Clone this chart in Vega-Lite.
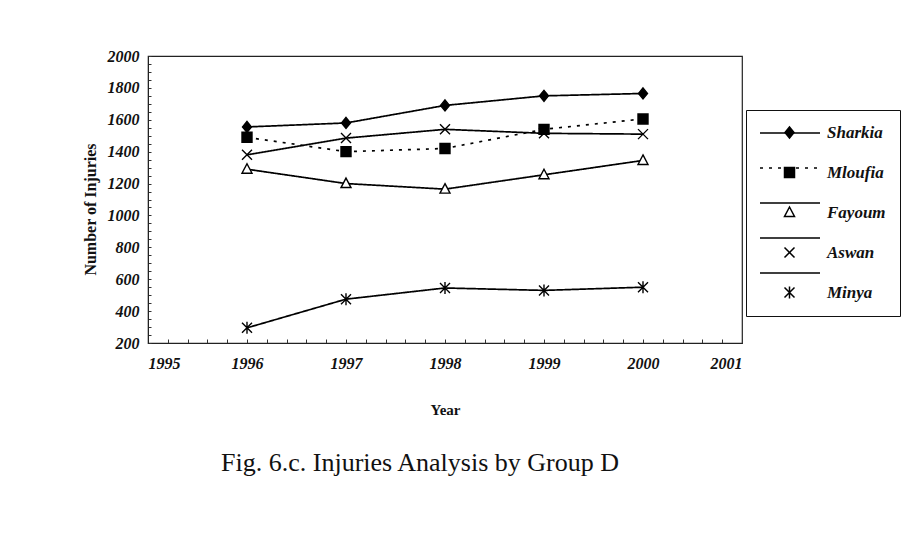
{
  "$schema": "https://vega.github.io/schema/vega-lite/v6.json",
  "width": 594,
  "height": 287,
  "autosize": {"type": "none"},
  "padding": {"left": 148, "top": 56, "right": 172, "bottom": 192},
  "background": "white",
  "title": {
    "text": "Fig. 6.c. Injuries Analysis by Group D",
    "orient": "bottom",
    "anchor": "middle",
    "font": "Liberation Serif",
    "fontSize": 26,
    "fontWeight": "normal",
    "color": "#111",
    "offset": 33,
    "dx": -25
  },
  "config": {
    "view": {"stroke": "#222", "strokeWidth": 1.2},
    "axis": {
      "grid": false,
      "domainColor": "#222",
      "tickColor": "#333",
      "labelFont": "Liberation Serif",
      "labelFontStyle": "italic",
      "labelFontWeight": "bold",
      "labelFontSize": 16,
      "labelColor": "#111",
      "titleFont": "Liberation Serif",
      "titleFontWeight": "bold",
      "titleColor": "#111",
      "labelOverlap": false
    }
  },
  "data": {
    "values": [
      {"year": 1996, "region": "Sharkia", "injuries": 1555},
      {"year": 1997, "region": "Sharkia", "injuries": 1580},
      {"year": 1998, "region": "Sharkia", "injuries": 1690},
      {"year": 1999, "region": "Sharkia", "injuries": 1750},
      {"year": 2000, "region": "Sharkia", "injuries": 1765},
      {"year": 1996, "region": "Mloufia", "injuries": 1490},
      {"year": 1997, "region": "Mloufia", "injuries": 1400},
      {"year": 1998, "region": "Mloufia", "injuries": 1420},
      {"year": 1999, "region": "Mloufia", "injuries": 1540},
      {"year": 2000, "region": "Mloufia", "injuries": 1605},
      {"year": 1996, "region": "Fayoum", "injuries": 1290},
      {"year": 1997, "region": "Fayoum", "injuries": 1200},
      {"year": 1998, "region": "Fayoum", "injuries": 1165},
      {"year": 1999, "region": "Fayoum", "injuries": 1255},
      {"year": 2000, "region": "Fayoum", "injuries": 1345},
      {"year": 1996, "region": "Aswan", "injuries": 1380},
      {"year": 1997, "region": "Aswan", "injuries": 1485},
      {"year": 1998, "region": "Aswan", "injuries": 1540},
      {"year": 1999, "region": "Aswan", "injuries": 1515},
      {"year": 2000, "region": "Aswan", "injuries": 1510},
      {"year": 1996, "region": "Minya", "injuries": 295},
      {"year": 1997, "region": "Minya", "injuries": 475},
      {"year": 1998, "region": "Minya", "injuries": 545},
      {"year": 1999, "region": "Minya", "injuries": 530},
      {"year": 2000, "region": "Minya", "injuries": 550}
    ]
  },
  "encoding": {
    "x": {
      "field": "year",
      "type": "quantitative",
      "scale": {"domain": [1995, 2001], "nice": false, "zero": false},
      "axis": {
        "title": "Year",
        "titleFontSize": 15,
        "values": [1995, 1995.2, 1995.4, 1995.6, 1995.8, 1996, 1996.2, 1996.4, 1996.6, 1996.8, 1997, 1997.2, 1997.4, 1997.6, 1997.8, 1998, 1998.2, 1998.4, 1998.6, 1998.8, 1999, 1999.2, 1999.4, 1999.6, 1999.8, 2000, 2000.2, 2000.4, 2000.6, 2000.8, 2001],
        "labelExpr": "datum.value % 1 === 0 ? datum.value : ''",
        "tickSize": -4,
        "labelPadding": 16,
        "titlePadding": 31
      }
    },
    "y": {
      "field": "injuries",
      "type": "quantitative",
      "scale": {"domain": [200, 2000], "nice": false, "zero": false},
      "axis": {
        "title": "Number of Injuries",
        "titleFontSize": 16,
        "titleY": 153,
        "values": [200, 250, 300, 350, 400, 450, 500, 550, 600, 650, 700, 750, 800, 850, 900, 950, 1000, 1050, 1100, 1150, 1200, 1250, 1300, 1350, 1400, 1450, 1500, 1550, 1600, 1650, 1700, 1750, 1800, 1850, 1900, 1950, 2000],
        "labelExpr": "datum.value % 200 === 0 ? datum.value : ''",
        "tickSize": -3,
        "labelPadding": 12,
        "titlePadding": 9
      }
    }
  },
  "layer": [
    {
      "mark": {"type": "line", "color": "black", "strokeWidth": 1.7},
      "encoding": {
        "strokeDash": {
          "field": "region",
          "type": "nominal",
          "sort": ["Sharkia", "Mloufia", "Fayoum", "Aswan", "Minya"],
          "scale": {"range": [[1, 0], [3, 6], [1, 0], [1, 0], [1, 0]]},
          "legend": {
            "title": null,
            "orient": "none",
            "legendX": 598,
            "legendY": 46,
            "padding": 0,
            "zindex": 0,
            "symbolType": "stroke",
            "symbolSize": 3600,
            "symbolOffset": 13,
            "symbolStrokeColor": "black",
            "symbolStrokeWidth": 1.7,
            "labelExpr": "''",
            "labelOffset": 0,
            "rowPadding": -15,
            "labelFontSize": 1
          }
        }
      }
    },
    {
      "mark": {"type": "point", "filled": true, "strokeWidth": 1.4, "size": 100, "opacity": 1},
      "encoding": {
        "fill": {
          "field": "region",
          "type": "nominal",
          "scale": {"domain": ["Sharkia", "Mloufia", "Fayoum", "Aswan", "Minya"], "range": ["black", "black", "white", "black", "black"]},
          "legend": {
            "title": null,
            "orient": "none",
            "legendX": 598,
            "legendY": 54,
            "padding": 14,
            "zindex": 1,
            "strokeColor": "#111",
            "symbolSize": 100,
            "symbolStrokeWidth": 1.5,
            "symbolOpacity": 1,
            "symbolOffset": 21,
            "labelOffset": 29,
            "rowPadding": 22,
            "labelFont": "Liberation Serif",
            "labelFontStyle": "italic",
            "labelFontWeight": "bold",
            "labelFontSize": 17,
            "labelColor": "#111"
          }
        },
        "stroke": {
          "field": "region",
          "type": "nominal",
          "scale": {"domain": ["Sharkia", "Mloufia", "Fayoum", "Aswan", "Minya"], "range": ["black", "black", "black", "black", "black"]},
          "legend": {
            "title": null,
            "orient": "none",
            "legendX": 598,
            "legendY": 54,
            "padding": 14,
            "zindex": 1,
            "strokeColor": "#111",
            "symbolSize": 100,
            "symbolStrokeWidth": 1.5,
            "symbolOpacity": 1,
            "symbolOffset": 21,
            "labelOffset": 29,
            "rowPadding": 22,
            "labelFont": "Liberation Serif",
            "labelFontStyle": "italic",
            "labelFontWeight": "bold",
            "labelFontSize": 17,
            "labelColor": "#111"
          }
        },
        "shape": {
          "field": "region",
          "type": "nominal",
          "scale": {
            "domain": ["Sharkia", "Mloufia", "Fayoum", "Aswan", "Minya"],
            "range": [
              "M0,-1.1L0.9,0L0,1.1L-0.9,0Z",
              "M-1,-1H1V1H-1Z",
              "M0,-1.1L1,0.8H-1Z",
              "M-1,-1L1,1M-1,1L1,-1",
              "M-1,-1L1,1M-1,1L1,-1M0,-1.2V1.2"
            ]
          },
          "legend": {
            "title": null,
            "orient": "none",
            "legendX": 598,
            "legendY": 54,
            "padding": 14,
            "zindex": 1,
            "strokeColor": "#111",
            "symbolSize": 100,
            "symbolStrokeWidth": 1.5,
            "symbolOpacity": 1,
            "symbolOffset": 21,
            "labelOffset": 29,
            "rowPadding": 22,
            "labelFont": "Liberation Serif",
            "labelFontStyle": "italic",
            "labelFontWeight": "bold",
            "labelFontSize": 17,
            "labelColor": "#111"
          }
        }
      }
    }
  ]
}
